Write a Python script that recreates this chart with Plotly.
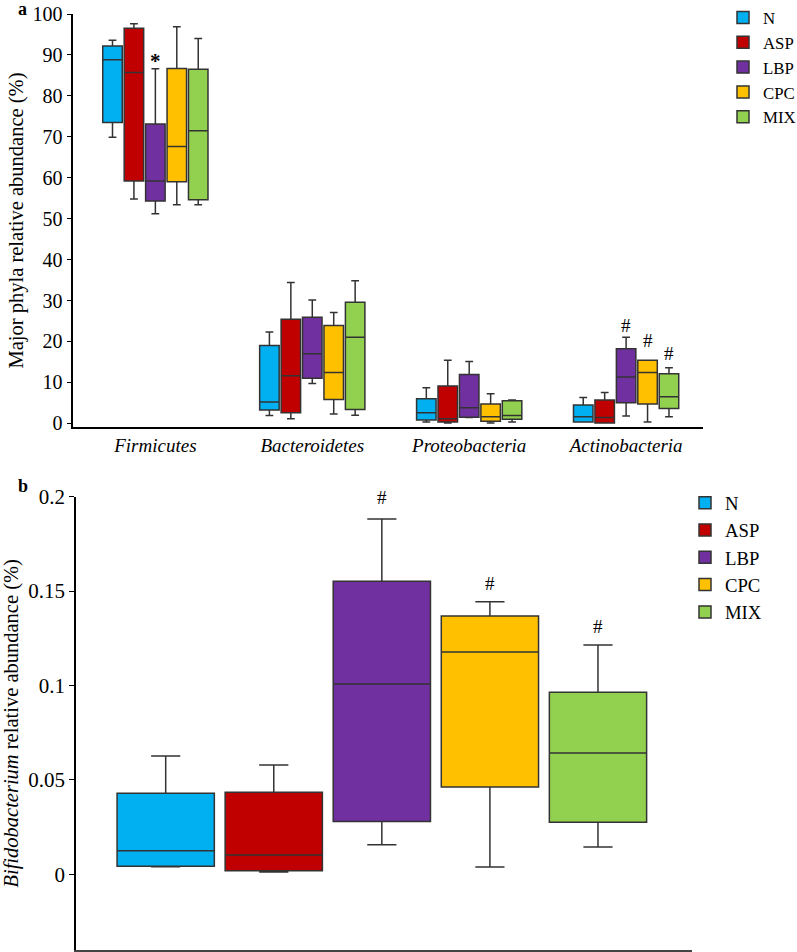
import plotly.graph_objects as go

groups = ["N", "ASP", "LBP", "CPC", "MIX"]
colors = ["#00B0F0", "#C00000", "#7030A0", "#FFC000", "#92D050"]
phyla = ["Firmicutes", "Bacteroidetes", "Proteobacteria", "Actinobacteria"]

# Panel a: rows = groups (N, ASP, LBP, CPC, MIX), columns = phyla
a_lower = [[69.9, 1.9, 0.3, 0.3], [54.8, 1.1, 0.1, 0.1], [51.2, 9.7, 1.4, 1.8],
           [53.4, 2.3, 0.1, 0.3], [53.4, 2.0, 0.3, 1.6]]
a_q1 = [[73.5, 3.25, 0.8, 0.3], [59.2, 2.6, 0.3, 0.1], [54.3, 11.0, 1.5, 5.0],
        [59.0, 5.8, 0.5, 4.7], [54.6, 3.4, 1.0, 3.6]]
a_median = [[88.8, 5.2, 2.6, 1.6], [85.7, 11.6, 1.1, 1.4], [59.2, 17.0, 3.8, 11.3],
            [67.6, 12.4, 1.6, 12.4], [71.5, 21.0, 1.9, 6.5]]
a_q3 = [[92.2, 19.0, 6.0, 4.5], [96.5, 25.4, 9.1, 5.7], [73.1, 25.9, 11.9, 18.2],
        [86.7, 23.9, 4.7, 15.4], [86.5, 29.6, 5.5, 12.1]]
a_upper = [[93.6, 22.3, 8.7, 6.3], [97.6, 34.4, 15.4, 7.5], [86.6, 30.1, 15.1, 21.0],
           [96.9, 27.1, 7.2, 15.4], [94.0, 34.8, 5.7, 13.6]]

# Panel b: Bifidobacterium, one box per group
b_lower = [0.0040, 0.0012, 0.0157, 0.0039, 0.0145]
b_q1 = [0.0043, 0.0019, 0.0279, 0.0462, 0.0275]
b_median = [0.0125, 0.0102, 0.1008, 0.1177, 0.0642]
b_q3 = [0.0429, 0.0434, 0.1552, 0.1368, 0.0964]
b_upper = [0.0627, 0.0579, 0.1882, 0.1444, 0.1215]

a_ticks = [0, 10, 20, 30, 40, 50, 60, 70, 80, 90, 100]
b_ticks = [0, 0.05, 0.1, 0.15, 0.2]
b_ticktext = ["0", "0.05", "0.1", "0.15", "0.2"]

SERIF = "Liberation Serif"
W, H = 797, 952
EDGE = "#333333"

fig = go.Figure()

for i, g in enumerate(groups):
    fig.add_trace(go.Box(
        name=g, x=phyla,
        lowerfence=a_lower[i], q1=a_q1[i], median=a_median[i], q3=a_q3[i], upperfence=a_upper[i],
        fillcolor=colors[i], line=dict(color=EDGE, width=1.5), whiskerwidth=0.4,
        boxpoints=False, offsetgroup=g, alignmentgroup="a",
        xaxis="x", yaxis="y", legend="legend", showlegend=True,
    ))

for i, g in enumerate(groups):
    fig.add_trace(go.Box(
        name=g, x=[g],
        lowerfence=[b_lower[i]], q1=[b_q1[i]], median=[b_median[i]], q3=[b_q3[i]],
        upperfence=[b_upper[i]],
        fillcolor=colors[i], line=dict(color=EDGE, width=1.5), whiskerwidth=0.3,
        boxpoints=False, width=0.9,
        xaxis="x2", yaxis="y2", legend="legend2", showlegend=True,
    ))

def px_x(p):
    return p / W

def px_y(p):
    return 1 - p / H

annots = []
# panel letters
annots.append(dict(text="<b>a</b>", x=px_x(16), y=px_y(-3), xref="paper", yref="paper",
                   xanchor="left", yanchor="top", showarrow=False, font=dict(size=18, family=SERIF, color="black")))
annots.append(dict(text="<b>b</b>", x=px_x(16), y=px_y(474), xref="paper", yref="paper",
                   xanchor="left", yanchor="top", showarrow=False, font=dict(size=18, family=SERIF, color="black")))

# significance marks panel a (group offsets within category)
slot = (1 - 0.317) / 5
def off(k):
    return (k - 2) * slot

annots.append(dict(text="<b>*</b>", x=0 + off(2), y=88.5, xref="x", yref="y", showarrow=False,
                   font=dict(size=21, family=SERIF, color="black")))
for k, yv in [(2, 23.8), (3, 20.2), (4, 17.0)]:
    annots.append(dict(text="#", x=3 + off(k), y=yv, xref="x", yref="y", showarrow=False,
                       font=dict(size=19, family=SERIF, color="black")))
# panel b
for k, yv in [(2, 0.1995), (3, 0.154), (4, 0.131)]:
    annots.append(dict(text="#", x=k, y=yv, xref="x2", yref="y2", showarrow=False,
                       font=dict(size=19, family=SERIF, color="black")))

fig.update_layout(
    width=W, height=H,
    margin=dict(l=0, r=0, t=0, b=0, autoexpand=False),
    paper_bgcolor="white", plot_bgcolor="white",
    boxmode="group", boxgap=0.317, boxgroupgap=0.09,
    font=dict(family=SERIF, color="black"),
    xaxis=dict(domain=[px_x(73.3), px_x(703)], range=[-0.523, 3.49], type="category",
               showline=True, linecolor="black", linewidth=1.5, ticks="",
               tickfont=dict(size=19, family=SERIF, style="italic"), showgrid=False, zeroline=False,
               anchor="y"),
    yaxis=dict(domain=[px_y(427), px_y(14)], range=[-0.9, 100], tickvals=a_ticks,
               showline=True, linecolor="black", linewidth=1.5, ticks="outside", ticklen=5,
               tickcolor="black", tickfont=dict(size=20, family=SERIF), showgrid=False,
               zeroline=False, anchor="x",
               title=dict(text="Major phyla relative abundance (%)", font=dict(size=20.5, family=SERIF),
                          standoff=3)),
    xaxis2=dict(domain=[px_x(76), px_x(692)], range=[-0.83, 4.87], type="category",
                showline=True, linecolor="#444444", linewidth=1.5, ticks="", showticklabels=False,
                showgrid=False, zeroline=False, anchor="y2"),
    yaxis2=dict(domain=[px_y(950), px_y(496.7)], range=[-0.0401, 0.2], tickvals=b_ticks,
                ticktext=b_ticktext, showline=True, linecolor="black", linewidth=1.5,
                ticks="outside", ticklen=5, tickcolor="black", tickfont=dict(size=21, family=SERIF),
                showgrid=False, zeroline=False, anchor="x2",
                title=dict(text="<i>Bifidobacterium</i> relative abundance (%)",
                           font=dict(size=20.5, family=SERIF), standoff=10)),
    legend=dict(x=px_x(723), y=px_y(0), xanchor="left", yanchor="top",
                font=dict(size=16.8, family=SERIF), bgcolor="rgba(0,0,0,0)", tracegroupgap=0),
    legend2=dict(x=px_x(685), y=px_y(484), xanchor="left", yanchor="top",
                 font=dict(size=18.7, family=SERIF), bgcolor="rgba(0,0,0,0)", tracegroupgap=0),
    annotations=annots,
)

fig.write_html("out.html", config={"displayModeBar": False},
               post_script="document.body.style.margin='0px';document.body.style.overflow='hidden';")
